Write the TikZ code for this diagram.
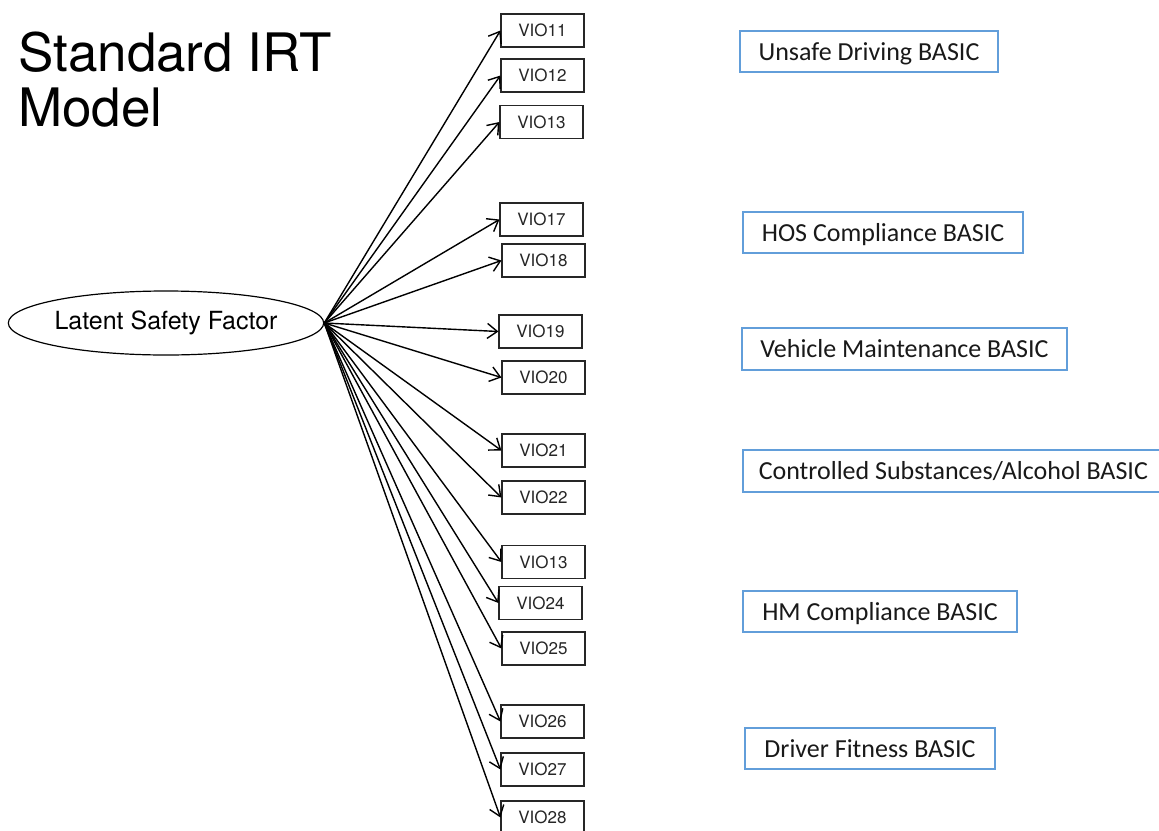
\documentclass[tikz,border=0pt]{standalone}
\usepackage{fontspec}
\setmainfont{TeX Gyre Heros}
\newfontfamily\basicfont{Carlito}
\usetikzlibrary{shapes.geometric,arrows.meta}
\definecolor{basicblue}{RGB}{98,158,218}
\tikzset{
  vio/.style={draw=black!85, line width=1.1pt, minimum width=83pt, minimum height=33pt,
    inner sep=0pt, font=\fontsize{17}{20}\selectfont, text=black!85},
  basic/.style={draw=basicblue, line width=1.5pt, minimum height=41pt, inner sep=0pt,
    text height=20pt, text depth=3pt,
    font=\basicfont\fontsize{26}{30}\selectfont, text=black!90},
  load/.style={line width=1.4pt, -{Straight Barb[length=10pt,width=15pt,line width=1.4pt]}},
  latent/.style={draw, ellipse, line width=1.2pt, minimum width=312pt, minimum height=64pt,
    inner sep=0pt, font=\fontsize{25}{30}\selectfont},
  title/.style={anchor=base west, inner sep=0pt, font=\fontsize{53}{60}\selectfont}
}
\begin{document}
\begin{tikzpicture}[x=1pt,y=-1pt]
\useasboundingbox (0,0) rectangle (1159,830);
\clip (0,0) rectangle (1159,830);
\fill[white] (0,0) rectangle (1159,830);

% title
\node[title] (t1) at (18,71) {Standard IRT};
\node[title] (t2) at (18,126) {Model};

% latent factor
\node[latent] (f) at (166,323) {Latent Safety Factor};

% indicator boxes
\node[vio] (v11) at (542.5,30.5) {VIO11};
\node[vio] (v12) at (542.5,75.5) {VIO12};
\node[vio] (v13) at (541.5,122) {VIO13};
\node[vio] (v17) at (541.5,219.5) {VIO17};
\node[vio] (v18) at (543.5,260.5) {VIO18};
\node[vio] (v19) at (540.5,331.5) {VIO19};
\node[vio] (v20) at (543.5,377.5) {VIO20};
\node[vio] (v21) at (543.5,450.5) {VIO21};
\node[vio] (v22) at (543.5,497.5) {VIO22};
\node[vio] (v23) at (543.5,562) {VIO13};
\node[vio] (v24) at (540.5,603) {VIO24};
\node[vio] (v25) at (543.5,648.5) {VIO25};
\node[vio] (v26) at (542.5,721.5) {VIO26};
\node[vio] (v27) at (542.5,769.5) {VIO27};
\node[vio] (v28) at (542.5,817.5) {VIO28};

% loadings
\foreach \v in {v11,v12,v13,v17,v18,v19,v20,v21,v22,v23,v24,v25,v26,v27,v28}
  \draw[load] (f.east) -- (\v.west);

% BASIC categories
\node[basic, minimum width=258pt] (b1) at (869,51.5) {Unsafe Driving BASIC};
\node[basic, minimum width=280pt] (b2) at (883,232.5) {HOS Compliance BASIC};
\node[basic, minimum width=325pt, minimum height=42pt] (b3) at (904.5,349) {Vehicle Maintenance BASIC};
\node[basic, anchor=west, inner xsep=16pt, minimum height=42pt] (b4) at (742,471) {Controlled Substances/Alcohol BASIC};
\node[basic, minimum width=274pt] (b5) at (880,611.5) {HM Compliance BASIC};
\node[basic, minimum width=250pt] (b6) at (870,748.5) {Driver Fitness BASIC};
\end{tikzpicture}
\end{document}
